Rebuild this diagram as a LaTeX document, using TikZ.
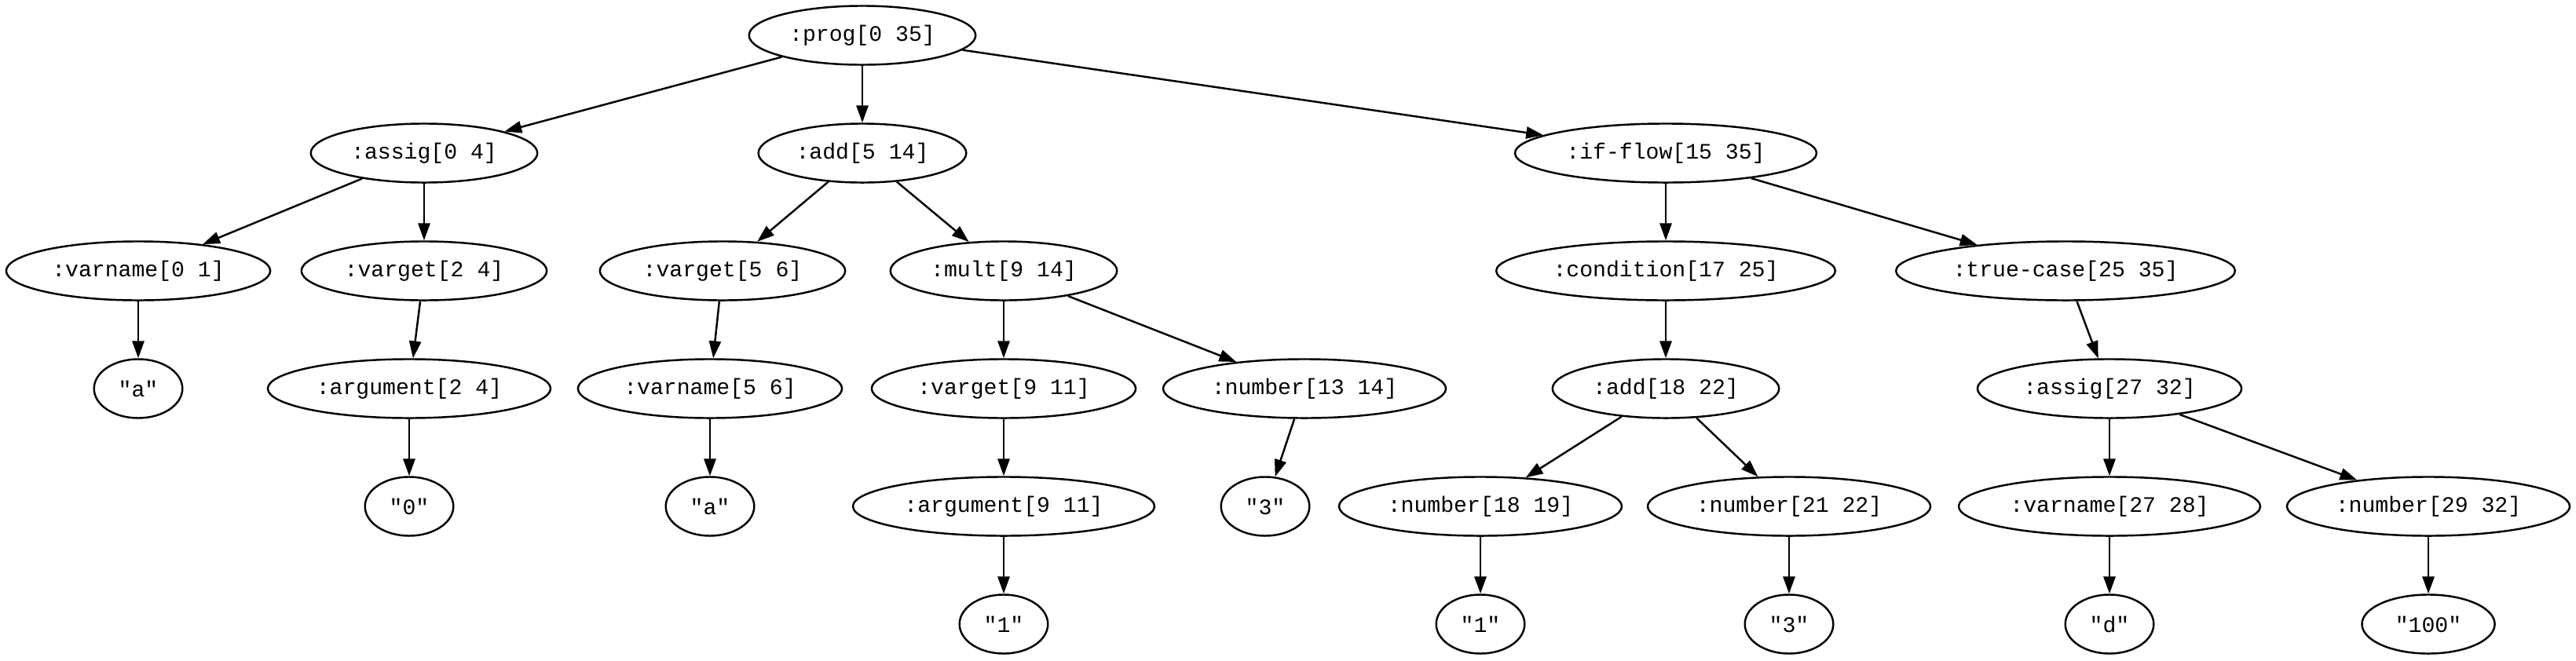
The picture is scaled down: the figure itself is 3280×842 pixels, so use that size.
\documentclass[tikz,border=0pt]{standalone}
\usepackage{fontspec}
\setmonofont{Liberation Mono}
\usetikzlibrary{shapes.geometric}
\usetikzlibrary{arrows.meta}
\newcommand{\qt}[1]{\char34\relax#1\char34\relax}

\tikzset{
	ast/.style={draw, ellipse, line width=0.7pt, inner xsep=2.6pt, inner ysep=0pt,
		minimum height=0.75cm, minimum width=1.125cm, font=\ttfamily\fontsize{8}{9}\selectfont},
	astedge/.style={line width=0.7pt, -{Triangle[length=6.2pt,width=4.3pt]}}
}

\begin{document}
\begin{tikzpicture}[x=0.01cm, y=-0.01cm]
				\def\rowA{45}
				\def\rowB{195}
				\def\rowC{345}
				\def\rowD{495}
				\def\rowE{645}
				\def\rowF{795}

				\useasboundingbox (0,0) rectangle (3280,842);

				% top of the tree
				\node[ast] (prog) at (1098,\rowA) {:prog[0 35]};

				\node[ast] (assig) at (540,\rowB) {:assig[0 4]};
				\node[ast] (add) at (1098,\rowB) {:add[5 14]};
				\node[ast] (ifflow) at (2121,\rowB) {:if-flow[15 35]};

				% assig[0 4]
				\node[ast] (varnameA) at (176,\rowC) {:varname[0 1]};
				\node[ast] (vargetA) at (540,\rowC) {:varget[2 4]};
				\node[ast] (strA) at (176,\rowD) {\qt{a}};
				\node[ast] (argA) at (521,\rowD) {:argument[2 4]};
				\node[ast] (strZero) at (521,\rowE) {\qt{0}};

				% add[5 14]
				\node[ast] (vargetB) at (920,\rowC) {:varget[5 6]};
				\node[ast] (mult) at (1278,\rowC) {:mult[9 14]};
				\node[ast] (varnameB) at (904,\rowD) {:varname[5 6]};
				\node[ast] (vargetC) at (1278,\rowD) {:varget[9 11]};
				\node[ast] (numA) at (1661,\rowD) {:number[13 14]};
				\node[ast] (strB) at (904,\rowE) {\qt{a}};
				\node[ast] (argB) at (1278,\rowE) {:argument[9 11]};
				\node[ast] (strThreeA) at (1611,\rowE) {\qt{3}};
				\node[ast] (strOneA) at (1278,\rowF) {\qt{1}};

				% if-flow[15 35]
				\node[ast] (cond) at (2121,\rowC) {:condition[17 25]};
				\node[ast] (truecase) at (2630,\rowC) {:true-case[25 35]};
				\node[ast] (addB) at (2121,\rowD) {:add[18 22]};
				\node[ast] (assigB) at (2686,\rowD) {:assig[27 32]};
				\node[ast] (numB) at (1885,\rowE) {:number[18 19]};
				\node[ast] (numC) at (2278,\rowE) {:number[21 22]};
				\node[ast] (varnameC) at (2686,\rowE) {:varname[27 28]};
				\node[ast] (numD) at (3092,\rowE) {:number[29 32]};
				\node[ast] (strOneB) at (1885,\rowF) {\qt{1}};
				\node[ast] (strThreeB) at (2278,\rowF) {\qt{3}};
				\node[ast] (strD) at (2686,\rowF) {\qt{d}};
				\node[ast, inner xsep=5pt] (strHundred) at (3092,\rowF) {\qt{100}};

				% edges
				\draw[astedge] (prog) -- (assig);
				\draw[astedge] (prog) -- (add);
				\draw[astedge] (prog) -- (ifflow);

				\draw[astedge] (assig) -- (varnameA);
				\draw[astedge] (assig) -- (vargetA);
				\draw[astedge] (varnameA) -- (strA);
				\draw[astedge] (vargetA) -- (argA);
				\draw[astedge] (argA) -- (strZero);

				\draw[astedge] (add) -- (vargetB);
				\draw[astedge] (add) -- (mult);
				\draw[astedge] (vargetB) -- (varnameB);
				\draw[astedge] (varnameB) -- (strB);
				\draw[astedge] (mult) -- (vargetC);
				\draw[astedge] (mult) -- (numA);
				\draw[astedge] (vargetC) -- (argB);
				\draw[astedge] (argB) -- (strOneA);
				\draw[astedge] (numA) -- (strThreeA);

				\draw[astedge] (ifflow) -- (cond);
				\draw[astedge] (ifflow) -- (truecase);
				\draw[astedge] (cond) -- (addB);
				\draw[astedge] (addB) -- (numB);
				\draw[astedge] (addB) -- (numC);
				\draw[astedge] (numB) -- (strOneB);
				\draw[astedge] (numC) -- (strThreeB);
				\draw[astedge] (truecase) -- (assigB);
				\draw[astedge] (assigB) -- (varnameC);
				\draw[astedge] (assigB) -- (numD);
				\draw[astedge] (varnameC) -- (strD);
				\draw[astedge] (numD) -- (strHundred);
\end{tikzpicture}
\end{document}
